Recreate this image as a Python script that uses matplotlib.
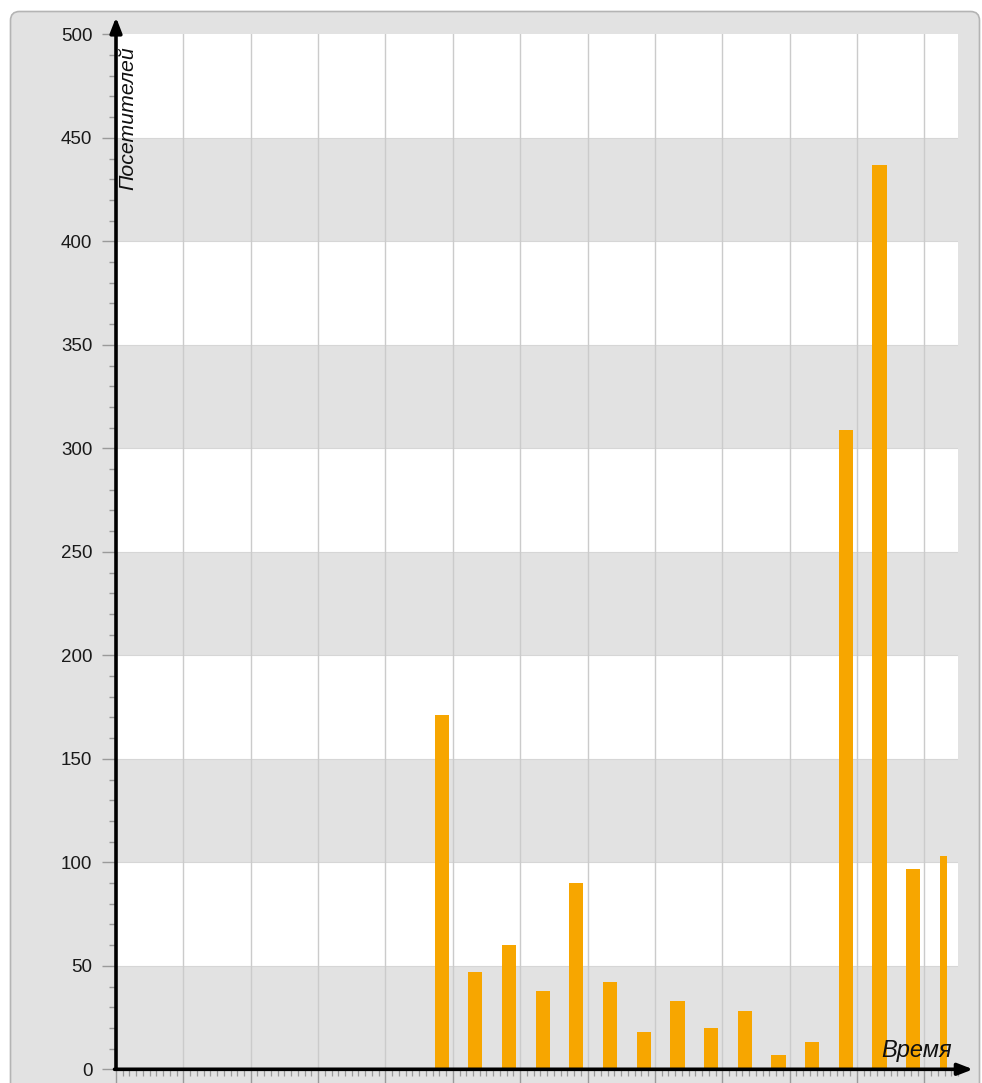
import matplotlib
matplotlib.use("Agg")
import matplotlib.pyplot as plt
from matplotlib.patches import FancyBboxPatch
from matplotlib.ticker import MultipleLocator

# ---- data ----
bin_start = [4.73, 5.23, 5.73, 6.23, 6.73, 7.23, 7.73, 8.23,
             8.73, 9.23, 9.73, 10.23, 10.73, 11.23, 11.73, 12.23]
visitors = [171, 47, 60, 38, 90, 42, 18, 33, 20, 28, 7, 13, 309, 437, 97, 103]
y_label = "Посетителей"
x_label = "Время"
y_ticks = [0, 50, 100, 150, 200, 250, 300, 350, 400, 450, 500]

plt.rcParams['font.family'] = ['Liberation Sans', 'DejaVu Sans']

W, H = 982, 1083
fig = plt.figure(figsize=(W / 100, H / 100), dpi=100)
fig.patch.set_facecolor('white')

panel_gray = '#e2e2e2'
# outer rounded panel
panel = FancyBboxPatch((0.105, -0.3), 9.69, 10.715 + 0.3,
                       boxstyle="round,pad=0,rounding_size=0.09",
                       transform=fig.dpi_scale_trans,
                       facecolor=panel_gray, edgecolor='#b4b4b4', lw=1.2,
                       zorder=-10)
fig.patches.append(panel)

left, right = 116 / W, 958 / W
bottom, top = (H - 1069.3) / H, (H - 34.3) / H
ax = fig.add_axes([left, bottom, right - left, top - bottom], zorder=1)
ax.patch.set_visible(False)

xmax = 12.5
ax.set_xlim(0, xmax)
ax.set_ylim(0, 500)

# alternating bands
for i, lo in enumerate(y_ticks[:-1]):
    if i % 2 == 1:
        ax.axhspan(lo, lo + 50, facecolor='white', edgecolor='none', zorder=0.5)
for yv in y_ticks[1:-1]:
    ax.axhline(yv, color='#d6d6d6', lw=0.8, zorder=0.6)

# vertical grid
ax.xaxis.set_major_locator(MultipleLocator(1))
ax.xaxis.set_minor_locator(MultipleLocator(0.1))
ax.yaxis.set_major_locator(MultipleLocator(50))
ax.yaxis.set_minor_locator(MultipleLocator(10))
for xv in range(1, 13):
    ax.axvline(xv, color='#cbcbcb', lw=1.0, zorder=0.7)

# bars
widths = [0.21] * (len(visitors) - 1) + [0.108]
ax.bar(bin_start, visitors, width=widths, align='edge',
       color='#f7a600', edgecolor='none', zorder=2)

# ticks
ax.set_yticks(y_ticks)
ax.set_yticklabels([str(v) for v in y_ticks])
ax.tick_params(axis='y', which='major', length=10, width=1.0, color='#9a9a9a',
               labelsize=13.5, labelcolor='#1a1a1a', pad=7)
ax.tick_params(axis='y', which='minor', length=5, width=1.0, color='#9a9a9a')
ax.tick_params(axis='x', which='major', length=12, width=1.0, color='#9a9a9a',
               labelbottom=False)
ax.tick_params(axis='x', which='minor', length=5, width=0.9, color='#9a9a9a')

for s in ax.spines.values():
    s.set_visible(False)

# axes arrows
ax.annotate('', xy=(0, 1 + 17 / 1035), xytext=(0, 0), xycoords='axes fraction',
            textcoords='axes fraction',
            arrowprops=dict(arrowstyle='-|>,head_length=0.9,head_width=0.35',
                            color='black', lw=2.6, shrinkA=0, shrinkB=0),
            annotation_clip=False, zorder=5)
ax.annotate('', xy=(1 + 15 / 842, 0), xytext=(-1.5 / 842, 0), xycoords='axes fraction',
            textcoords='axes fraction',
            arrowprops=dict(arrowstyle='-|>,head_length=0.9,head_width=0.35',
                            color='black', lw=2.6, shrinkA=0, shrinkB=0),
            annotation_clip=False, zorder=5)

# axis labels
fig.text(118 / W, (H - 46) / H, y_label, rotation=90, ha='left', va='top',
         fontsize=15.3, fontstyle='italic', color='#111111', zorder=6)
fig.text(952 / W, (H - 1057) / H, x_label, ha='right', va='baseline',
         fontsize=17, fontstyle='italic', color='#111111', zorder=6)

fig.savefig('out.png', dpi=100)
